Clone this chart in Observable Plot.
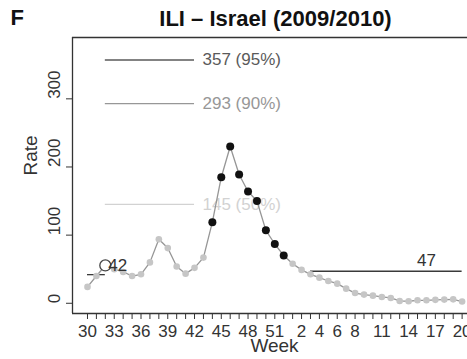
<!DOCTYPE html>
<html>
<head>
<meta charset="utf-8">
<script src="https://cdn.jsdelivr.net/npm/d3@7"></script>
<script src="https://cdn.jsdelivr.net/npm/@observablehq/plot@0.6"></script>
<style>
  html, body { margin: 0; padding: 0; background: #fff; overflow: hidden; }
</style>
</head>
<body>
<div id="chart"></div>
<script>
// ILI weekly rates, Israel season 2009/2010 (week 30 of 2009 to week 20 of 2010)
const weeks = [30, 31, 32, 33, 34, 35, 36, 37, 38, 39, 40, 41, 42, 43, 44, 45, 46, 47, 48, 49, 50, 51, 52,
               1, 2, 3, 4, 5, 6, 7, 8, 9, 10, 11, 12, 13, 14, 15, 16, 17, 18, 19, 20];
const rates = [24, 40, 55.5, 50, 46, 40, 42.5, 60, 94, 81, 54, 43.5, 52, 67, 119, 185, 230, 189, 164, 150, 107, 87, 70,
               58, 49, 42.5, 37.6, 32.7, 28.8, 21.5, 15, 12.7, 11.2, 9.3, 7.8, 3.4, 3, 4.4, 4.4, 5, 5.4, 5.8, 2.5];
// epidemic weeks (season 1)
const epidemicWeeks = [44, 45, 46, 47, 48, 49, 50, 51, 52];
// intensity thresholds
const thresholdValues = [357, 293, 145];
const thresholdLabels = ["357 (95%)", "293 (90%)", "145 (50%)"];
// baseline levels before and after the epidemic
const baselineValues = [42, 47];
const baselineLabels = ["42", "47"];
const onsetWeek = 32;
const xTickLabels = [30, 33, 36, 39, 42, 45, 48, 51, 2, 4, 6, 8, 11, 14, 17, 20];
const yTicks = [0, 100, 200, 300];

// index of a week in the season (season 1 = 2009, season 2 = 2010)
const secondStart = weeks.indexOf(1);
const at = (w, season = 1) => weeks.indexOf(w, season === 2 ? secondStart : 0);

const rows = weeks.map((w, i) => ({
  i, week: w, rate: rates[i],
  epidemic: i < secondStart && epidemicWeeks.includes(w),
  onset: i === at(onsetWeek)
}));

const thresholds = thresholdValues.map((v, k) => ({
  value: v, label: thresholdLabels[k],
  color: ["#5a5a5a", "#979797", "#d2d2d2"][k]
}));

const onset = rows[at(onsetWeek)];
const pre = {value: baselineValues[0], label: baselineLabels[0], x1: at(30), x2: at(onsetWeek)};
const post = {value: baselineValues[1], label: baselineLabels[1], x1: at(3, 2), x2: at(20, 2)};

const n = weeks.length - 1;
const xDomain = [-0.04 * n, n + 0.04 * n];
const yDomain = [-15, 390];
const font = "'Liberation Sans', Arial, Helvetica, sans-serif";

const chart = Plot.plot({
  width: 467,
  height: 359,
  marginLeft: 72,
  marginRight: 0,
  marginTop: 37,
  marginBottom: 46,
  style: {fontFamily: font, fontSize: "17px", color: "#333", background: "#fff"},
  x: {
    domain: xDomain,
    range: [72, 476.6],
    ticks: d3.range(weeks.length),
    tickFormat: i => xTickLabels.includes(weeks[i]) ? String(weeks[i]) : "",
    tickSize: 6,
    tickPadding: 5,
    label: null
  },
  y: {
    domain: yDomain,
    ticks: yTicks,
    tickFormat: () => "",
    tickSize: 6,
    label: null
  },
  marks: [
    // intensity thresholds
    Plot.ruleY(thresholds, {y: "value", x1: at(onsetWeek), x2: at(42), stroke: "color", strokeWidth: 1.3}),
    Plot.text(thresholds, {x: at(42), y: "value", text: "label", fill: "color", textAnchor: "start", dx: 8, fontSize: 17}),
    // baseline levels
    Plot.ruleY([pre, post], {y: "value", x1: "x1", x2: "x2", stroke: "#3a3a3a", strokeWidth: 1.3}),
    // weekly series
    Plot.line(rows, {x: "i", y: "rate", stroke: "#969696", strokeWidth: 1.3}),
    Plot.dot(rows.filter(d => !d.epidemic && !d.onset), {x: "i", y: "rate", r: 3.3, fill: "#c6c6c6"}),
    Plot.dot(rows.filter(d => d.epidemic), {x: "i", y: "rate", r: 4, fill: "#111"}),
    // onset marker and baseline labels
    Plot.dot([onset], {x: "i", y: "rate", r: 5.5, stroke: "#444", strokeWidth: 1.3, fill: "#fff"}),
    Plot.text([onset], {x: "i", y: "rate", text: () => pre.label, textAnchor: "start", dx: 3, fill: "#333", fontSize: 17}),
    Plot.text([post], {x: at(16, 2), y: "value", text: "label", dy: -11, fill: "#333", fontSize: 17}),
    // plot box (top, bottom, left)
    Plot.ruleY([yDomain[0], yDomain[1]], {stroke: "#333", strokeWidth: 1.3}),
    Plot.ruleX([xDomain[0]], {stroke: "#333", strokeWidth: 1.3}),
    // y tick labels, parallel to the axis
    Plot.text(yTicks, {y: d => d, text: d => String(d), frameAnchor: "left", dx: -18, rotate: -90, fill: "#333", fontSize: 17}),
    // axis titles
    Plot.text(["Week"], {frameAnchor: "bottom", dx: 4.5, dy: 38, fill: "#333", fontSize: 19}),
    Plot.text(["Rate"], {frameAnchor: "left", dx: -42, rotate: -90, fill: "#333", fontSize: 19}),
    // title and panel letter
    Plot.text(["ILI – Israel (2009/2010)"], {frameAnchor: "top", dx: 5.5, dy: -12, lineAnchor: "bottom", fontWeight: "bold", fontSize: 22, fill: "#111"}),
    Plot.text(["F"], {frameAnchor: "top-left", dx: -62, dy: -13, lineAnchor: "bottom", textAnchor: "start", fontWeight: "bold", fontSize: 22, fill: "#111"})
  ]
});

document.getElementById("chart").appendChild(chart);
</script>
</body>
</html>
